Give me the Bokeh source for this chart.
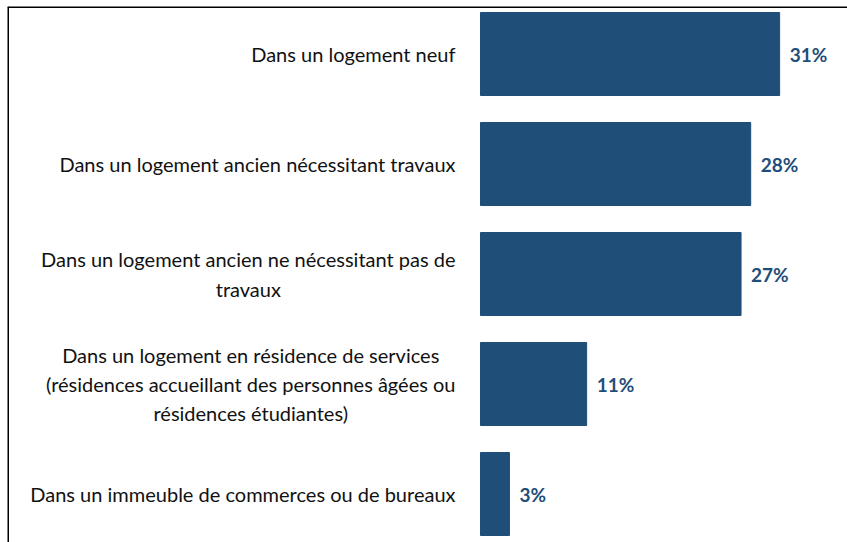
from bokeh.plotting import figure
from bokeh.models import Range1d, ColumnDataSource, Span
from bokeh.core.properties import value
from bokeh.embed import file_html
from bokeh.resources import INLINE

categories = [
    "Dans un logement neuf",
    "Dans un logement ancien nécessitant travaux",
    "Dans un logement ancien ne nécessitant pas de\ntravaux",
    "Dans un logement en résidence de services\n(résidences accueillant des personnes âgées ou\nrésidences étudiantes)",
    "Dans un immeuble de commerces ou de bureaux",
]
values = [31, 28, 27, 11, 3]
value_labels = ["31%", "28%", "27%", "11%", "3%"]
positions = list(range(len(categories)))

BAR = "#1F4E79"
W, H = 847, 542
ML, MT = 7, 6          # frame starts where the black border is
FW, FH = W - ML, H - MT
px_per_unit = 9.65
bar_left_px = 480 - ML
step_px = 110
first_center_px = 53.5 - MT

x0 = -bar_left_px / px_per_unit
x1 = x0 + FW / px_per_unit
ytop = -first_center_px / step_px
ybot = ytop + FH / step_px

src = ColumnDataSource(dict(y=positions, v=values, cat=categories, lab=value_labels))

p = figure(width=W, height=H, output_backend="svg", toolbar_location=None,
           x_range=Range1d(x0, x1), y_range=Range1d(ybot, ytop),
           min_border=0, min_border_left=ML, min_border_right=0,
           min_border_top=MT, min_border_bottom=0)
p.xaxis.visible = False
p.yaxis.visible = False
p.xgrid.visible = False
p.ygrid.visible = False
p.outline_line_color = None
p.background_fill_color = "white"
p.border_fill_color = "white"

p.hbar(y="y", left=0, right="v", height=83 / step_px, source=src,
       fill_color=BAR, line_color=BAR, line_width=1)

p.text(x=0, y="y", text="cat", source=src, x_offset=-25,
       anchor="center_right", text_align="center", text_baseline="middle",
       text_font=value("Lato"), text_font_size="20px", text_color="#111111",
       text_line_height=1.22)

p.text(x="v", y="y", text="lab", source=src, x_offset=10,
       text_align="left", text_baseline="middle",
       text_font=value("Lato"), text_font_size="19px", text_font_style="bold",
       text_color=BAR)

p.add_layout(Span(location=x0 + 0.5 / px_per_unit, dimension="height",
                  line_color="black", line_width=2))
p.add_layout(Span(location=ytop + 0.5 / step_px, dimension="width",
                  line_color="black", line_width=2))

open("out.html", "w").write(file_html(p, INLINE))
